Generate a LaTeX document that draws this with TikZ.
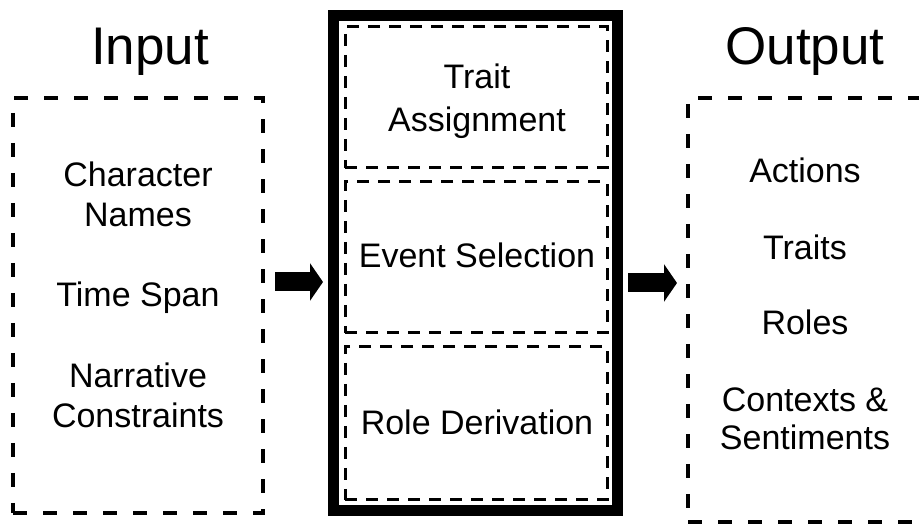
\documentclass[tikz,border=0pt]{standalone}
\usepackage{fontspec}
\setmainfont{Liberation Sans}
\usetikzlibrary{arrows.meta}
\tikzset{
  x=1pt, y=1pt,
  iobox/.style={draw, line width=4pt, dash pattern=on 14pt off 16pt, inner sep=0pt},
  subbox/.style={draw, line width=3pt, dash pattern=on 12pt off 9pt, inner sep=0pt, minimum width=262pt},
  midbox/.style={draw, line width=11pt, inner sep=0pt},
  txt/.style={anchor=base, inner sep=0pt, font=\fontsize{34}{40}\selectfont},
  ttl/.style={anchor=base, inner sep=0pt, font=\fontsize{53}{60}\selectfont},
  bigarrow/.style={line width=19pt, -{Triangle[length=13pt,width=37pt]}}
}
\begin{document}
\begin{tikzpicture}
\useasboundingbox (0,0) rectangle (919,524);
% boxes
\node[iobox, minimum width=250pt, minimum height=415pt] (inbox) at (138,218.5) {};
\node[midbox, minimum width=284.5pt, minimum height=495pt] (mid) at (475.25,260.5) {};
\node[subbox, minimum height=141pt] (s1) at (476,426.5) {};
\node[subbox, minimum height=151pt] (s2) at (476,266.5) {};
\node[subbox, minimum height=153pt] (s3) at (476,100.5) {};
\node[iobox, minimum width=280pt, minimum height=424pt] (outbox) at (828,214) {};
% titles
\node[ttl] (tin) at (150,459) {Input};
\node[ttl] (tout) at (805,459) {Output};
% input texts
\node[txt] (i1) at (138,337) {Character};
\node[txt] (i2) at (138,297) {Names};
\node[txt] (i3) at (138,217) {Time Span};
\node[txt] (i4) at (138,136) {Narrative};
\node[txt] (i5) at (138,96) {Constraints};
% middle texts
\node[txt] (m1) at (477,435) {Trait};
\node[txt] (m2) at (477,392) {Assignment};
\node[txt] (m3) at (477,256) {Event Selection};
\node[txt] (m4) at (477,89) {Role Derivation};
% output texts
\node[txt] (o1) at (805,341) {Actions};
\node[txt] (o2) at (805,264) {Traits};
\node[txt] (o3) at (805,189) {Roles};
\node[txt] (o4) at (805,112) {Contexts \&};
\node[txt] (o5) at (805,74) {Sentiments};
% arrows
\coordinate (ay) at (0,242);
\coordinate (by) at (0,241);
\draw[bigarrow, shorten <=10pt, shorten >=4.5pt] (inbox.east |- ay) -- (mid.west |- ay);
\draw[bigarrow, shorten <=5pt, shorten >=9pt] (mid.east |- by) -- (outbox.west |- by);
\end{tikzpicture}
\end{document}
